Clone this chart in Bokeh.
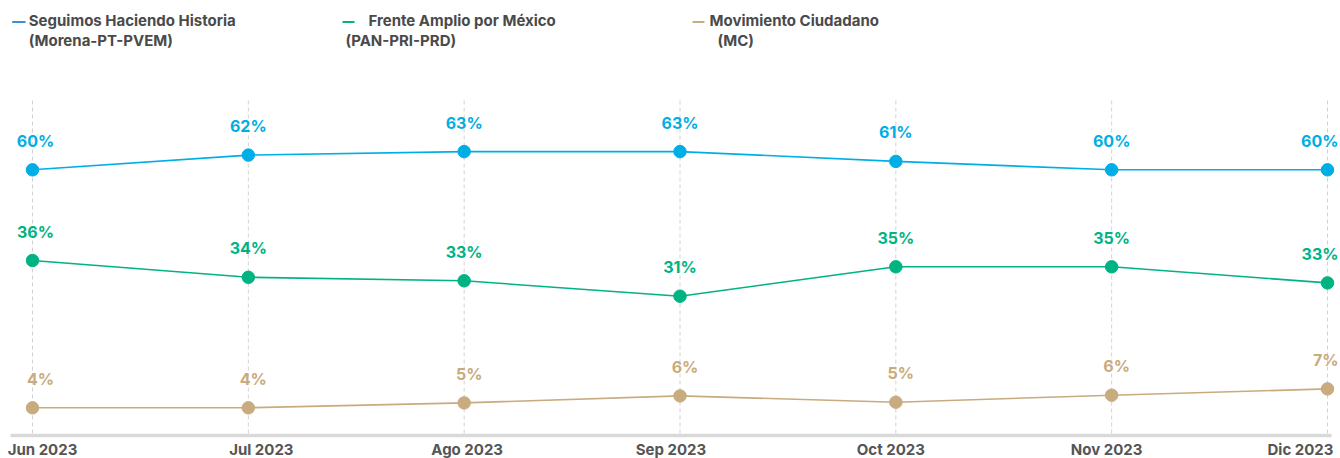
from bokeh.plotting import figure
from bokeh.models import Range1d, ColumnDataSource
from bokeh.core.properties import value
from bokeh.embed import file_html
from bokeh.resources import INLINE

# ---------------- data ----------------
months = ["Jun 2023", "Jul 2023", "Ago 2023", "Sep 2023", "Oct 2023", "Nov 2023", "Dic 2023"]
shh = [60.1, 62.2, 62.7, 62.7, 61.3, 60.1, 60.1]      # Seguimos Haciendo Historia
fam = [36.2, 33.8, 33.3, 31.1, 35.3, 35.3, 33.0]      # Frente Amplio por México
mc = [4.4, 4.4, 5.1, 6.1, 5.2, 6.2, 7.1]              # Movimiento Ciudadano

series_names = ["Seguimos Haciendo Historia", "Frente Amplio por México", "Movimiento Ciudadano"]
series_sub = ["(Morena-PT-PVEM)", "(PAN-PRI-PRD)", "(MC)"]

# ---------------- styles ----------------
W, H = 1340, 458
STEP = 215.83          # px between months
PXU = 7.0              # px per percentage point
BLUE, GREEN, TAN = "#00AEE6", "#00B383", "#C8AB7E"
LEG_BLUE = "#3A8FD9"
TXT = "#4A4A4A"
FONT = value("Inter")

idx = list(range(len(months)))

p = figure(width=W, height=H, output_backend="svg", toolbar_location=None,
           x_range=Range1d(-32 / STEP, 6 + 13 / STEP),
           y_range=Range1d(H, 0),
           x_axis_type=None, y_axis_type=None, min_border=0,
           outline_line_color=None, background_fill_color="white",
           border_fill_color="white")
p.grid.visible = False

def yr(anchor_val, anchor_px):
    top = anchor_val + anchor_px / PXU
    return Range1d(top - H / PXU, top)

p.extra_x_ranges = {"px": Range1d(0, W)}
p.extra_y_ranges = {"shh": yr(shh[0], 169.3), "fam": yr(fam[0], 260.0), "mc": yr(mc[0], 407.3)}

# vertical dashed guides
p.segment(x0=idx, x1=idx, y0=[100] * 7, y1=[434] * 7, line_color="#D2D2D2",
          line_width=1, line_dash="4 3")
# baseline axis
p.segment(x0=[10], x1=[1331], y0=[435], y1=[435], x_range_name="px",
          line_color="#D9D9D9", line_width=3.5)
# month labels
p.text(x=idx, y=[449] * 7, text=months, x_offset=[10, 13, 3, -9, -5, -5, -27],
       text_align="center", text_baseline="middle", text_font=FONT,
       text_font_style="bold", text_font_size="15px", text_color="#555555")

for vals, rng, col in [(shh, "shh", BLUE), (fam, "fam", GREEN), (mc, "mc", TAN)]:
    src = ColumnDataSource(dict(
        x=idx, y=vals, lab=[f"{round(v)}%" for v in vals],
        al=["center"] * 6 + ["right"],
        xo=[3 if rng != "mc" else 8] + [0 if rng != "mc" else 5] * 5 + [11],
    ))
    p.line("x", "y", source=src, y_range_name=rng, line_color=col, line_width=1.6)
    p.scatter("x", "y", source=src, y_range_name=rng, size=12.5, fill_color=col,
              line_color=col)
    p.text("x", "y", text="lab", source=src, y_range_name=rng, x_offset="xo",
           y_offset=-29, text_align="al", text_baseline="middle",
           text_font=FONT, text_font_style="bold", text_font_size="16px",
           text_color=col)

# legend
leg = [(LEG_BLUE, 11.7, 25, 28.3, 28.3), (GREEN, 342, 354, 368, 345), (TAN, 692, 704, 709, 717)]
for (col, d0, d1, t1, t2), nm, sub in zip(leg, series_names, series_sub):
    p.segment(x0=[d0], x1=[d1], y0=[21.5], y1=[21.5], x_range_name="px",
              line_color=col, line_width=2)
    p.text(x=[t1], y=[20], text=[nm], x_range_name="px", text_align="left",
           text_baseline="middle", text_font=FONT, text_font_style="bold",
           text_font_size="15px", text_color=TXT)
    p.text(x=[t2], y=[40], text=[sub], x_range_name="px", text_align="left",
           text_baseline="middle", text_font=FONT, text_font_style="bold",
           text_font_size="15px", text_color=TXT)

open("out.html", "w").write(file_html(p, INLINE))
